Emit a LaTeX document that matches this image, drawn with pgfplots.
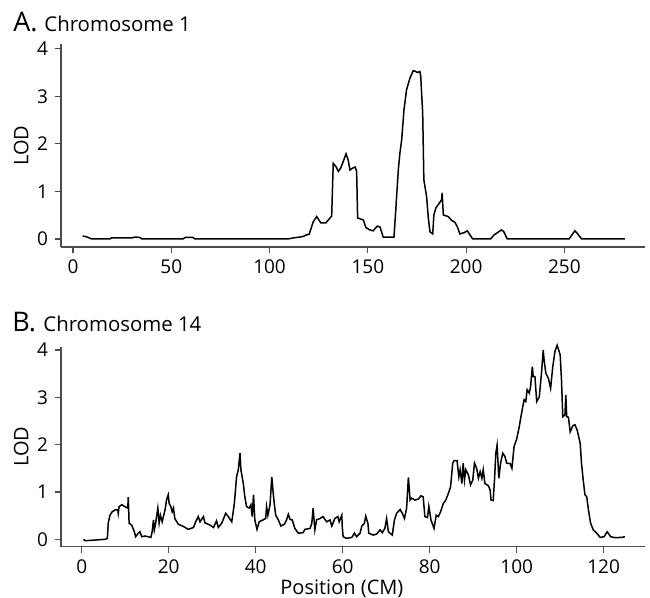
\documentclass[border=0pt]{standalone}
\usepackage{fontspec}
\setmainfont{Open Sans}
\usepackage{pgfplots}
\pgfplotsset{compat=1.18}

\pgfplotsset{
  lodpanel/.style={
    scale only axis,
    width=292pt,
    axis lines*=left,
    axis line style={black!70, line width=0.6pt},
    tick align=outside,
    major tick length=3pt,
    tick style={black!70, line width=0.6pt},
    ticklabel style={font=\fontsize{9.5}{11}\selectfont},
    label style={font=\fontsize{10}{12}\selectfont},
    /pgf/number format/assume math mode=true,
    ytick={0,1,2,3,4},
    ylabel={LOD},
    ylabel style={at={(axis description cs:-0.068,0.5)}, anchor=center},
    clip=false,
  },
  lodline/.style={black, line width=0.75pt, mark=none},
}

\begin{document}
\begin{tikzpicture}
\useasboundingbox (0pt,0pt) rectangle (325pt,-299pt);

% panel A
\begin{axis}[lodpanel, at={(30.5pt,-123.5pt)}, anchor=south west,
  height=101.5pt, xmin=-6.1, xmax=291, ymin=-0.17, ymax=4.1,
  xtick={0,50,100,150,200,250}]
\addplot[lodline] table {
4.9 0.06
6.5 0.05
9.5 0.0
18.8 0.0
19.5 0.02
30 0.02
31.5 0.04
34 0.03
35 0.0
56 0.0
57 0.03
61 0.03
62 0.0
109.5 0.0
112 0.02
115.5 0.04
117 0.05
118.5 0.08
120.2 0.1
122.2 0.36
124 0.47
126 0.34
128.7 0.34
131.6 0.48
132.4 1.59
133.8 1.52
135 1.42
136.2 1.49
137.5 1.63
138.9 1.79
140 1.66
140.9 1.45
142.3 1.49
143.6 1.51
144.3 1.42
144.8 0.44
147.7 0.40
149 0.24
151 0.19
152.7 0.17
154.8 0.27
156.2 0.25
157.8 0.04
163.3 0.04
164.2 0.6
165.5 1.45
166.3 1.80
167.2 2.08
168.4 2.72
169.7 3.14
171.4 3.38
173.1 3.54
174.5 3.52
175.1 3.50
176.5 3.52
176.9 3.42
177.9 2.65
178.5 1.24
179.9 0.89
180.7 0.47
181.6 0.15
183 0.105
183.6 0.505
184.6 0.65
186.3 0.75
187.5 0.82
187.8 0.97
188.4 0.505
190.9 0.47
192.6 0.39
194.3 0.35
195.5 0.26
196.8 0.105
198.9 0.13
200.6 0.17
203.3 0.0
212.5 0.0
214.1 0.08
218 0.19
219.2 0.15
220.9 0.0
252.4 0.0
255.3 0.17
256.5 0.12
258.7 0.0
280.8 0.0
};
\end{axis}

% panel B
\begin{axis}[lodpanel, at={(30.5pt,-273.35pt)}, anchor=south west,
  height=100pt, xmin=-4.76, xmax=129.5, ymin=-0.156, ymax=4.07,
  xtick={0,20,40,60,80,100,120},
  xlabel={Position (CM)},
  xlabel style={at={(axis description cs:0.481,-0.2415)}, anchor=base}]
\addplot[lodline] table {
0.4 0.0
0.8 -0.03
2.3 -0.02
5.4 0.0
5.9 0.02
6.1 0.34
6.5 0.51
7.0 0.58
7.65 0.62
8.3 0.62
8.4 0.55
8.6 0.69
9.2 0.73
9.95 0.69
10.6 0.66
10.7 0.89
10.9 0.34
11.5 0.30
12.1 0.16
12.4 0.055
13.0 0.13
13.4 0.16
13.8 0.055
14.55 0.07
15.9 0.04
16.2 0.16
16.5 0.41
16.7 0.2
17.0 0.34
17.5 0.66
17.8 0.34
18.1 0.51
18.5 0.37
19.15 0.62
19.5 0.83
19.9 0.94
20.1 0.76
20.5 0.69
20.8 0.58
21.1 0.66
21.4 0.44
22.2 0.32
23.4 0.27
24.5 0.21
25.7 0.25
26.2 0.37
26.8 0.48
27.2 0.37
28.0 0.48
28.3 0.35
29.5 0.30
30.3 0.25
31.0 0.39
31.4 0.25
32.2 0.34
33.1 0.55
33.7 0.48
34.5 0.37
35.1 0.76
35.6 1.32
36.0 1.47
36.4 1.82
36.6 1.47
37.15 1.18
37.5 0.9
37.9 0.69
38.5 0.66
38.9 0.73
39.2 0.48
39.5 0.94
39.8 0.41
40.3 0.21
40.8 0.37
41.7 0.41
42.3 0.44
42.5 0.69
42.8 0.51
43.3 0.73
43.7 1.32
44.0 1.0
44.3 0.73
44.6 0.51
45.2 0.41
45.8 0.28
46.6 0.32
47.1 0.41
47.5 0.53
47.9 0.42
48.4 0.41
49.0 0.23
49.8 0.13
50.9 0.14
51.3 0.21
52.5 0.23
52.9 0.34
53.2 0.66
53.6 0.20
54.0 0.41
54.8 0.44
55.5 0.48
56.3 0.37
57.1 0.41
57.5 0.28
58.2 0.44
58.9 0.48
59.2 0.37
59.8 0.51
59.9 0.27
60.1 0.055
60.9 0.02
62.1 0.04
62.7 0.13
63.2 0.055
64.0 0.13
64.4 0.28
65.0 0.34
65.3 0.49
65.8 0.34
66.0 0.13
67.0 0.09
67.8 0.11
68.6 0.20
69.1 0.14
69.7 0.23
70.1 0.44
70.5 0.16
71.4 0.09
71.9 0.41
72.4 0.55
73.2 0.63
73.7 0.55
74.2 0.44
74.7 0.66
75.1 1.31
75.5 0.83
75.9 0.87
76.6 0.83
77.4 0.85
78.0 0.92
78.5 0.90
78.9 0.48
79.5 0.46
79.8 0.70
80.3 0.41
81.0 0.23
81.5 0.51
82.0 0.48
82.5 0.58
83.1 0.75
83.7 0.83
84.3 0.97
84.8 1.11
85.3 1.61
85.6 1.66
86.3 1.66
86.7 1.32
87.0 1.47
87.4 1.18
87.7 1.61
88.0 1.25
88.3 1.47
88.9 1.36
89.4 1.15
89.9 1.25
90.3 1.61
90.8 1.50
91.2 1.29
91.6 1.43
92.0 1.29
92.3 1.47
92.7 1.18
93.5 1.13
93.9 1.04
94.1 0.83
94.6 0.82
94.9 1.25
95.2 1.82
95.5 1.99
95.9 1.29
96.3 1.61
96.8 1.82
97.3 1.75
97.7 1.61
98.5 1.60
98.9 1.50
99.4 1.96
100.0 2.12
100.6 2.38
100.9 2.55
101.4 2.80
101.7 2.95
102.1 2.91
102.4 3.16
102.9 3.09
103.2 3.23
103.6 3.65
103.8 3.44
104.2 3.44
104.6 2.91
105.2 3.01
105.7 3.51
106.1 4.0
106.3 3.79
106.7 3.51
107.3 3.40
107.8 3.19
108.3 3.65
108.8 3.97
109.3 4.1
110.0 3.90
110.3 3.37
110.6 2.59
111.1 2.63
111.3 3.05
111.5 2.59
111.9 2.58
112.3 2.27
112.9 2.40
113.4 2.42
113.9 2.31
114.6 2.03
114.9 1.61
115.3 1.25
115.7 0.94
116.1 0.90
116.5 0.62
117.0 0.34
117.6 0.20
118.4 0.13
119.2 0.04
120.1 0.055
120.8 0.16
121.6 0.055
122.6 0.035
124.1 0.04
124.9 0.055
};
\end{axis}

% panel titles
\node[anchor=base west, inner sep=0pt, font=\fontsize{13.5}{15}\selectfont] at (6.5pt,-16pt) {A.};
\node[anchor=base west, inner sep=0pt, font=\fontsize{10.2}{12}\selectfont] at (22pt,-16pt) {Chromosome 1};
\node[anchor=base west, inner sep=0pt, font=\fontsize{13.5}{15}\selectfont] at (6pt,-165.85pt) {B.};
\node[anchor=base west, inner sep=0pt, font=\fontsize{10.2}{12}\selectfont] at (21.5pt,-165.85pt) {Chromosome 14};
\end{tikzpicture}
\end{document}
